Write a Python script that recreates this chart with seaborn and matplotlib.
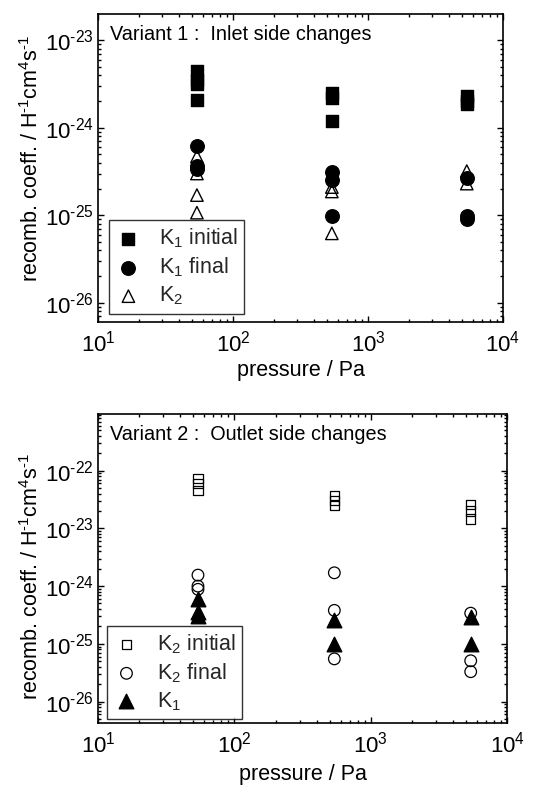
import numpy as np
import pandas as pd
import matplotlib
matplotlib.use("Agg")
import matplotlib.pyplot as plt
from matplotlib.ticker import LogLocator, FuncFormatter, NullFormatter
import seaborn as sns

sns.set_theme(style="ticks")
plt.rcParams["font.family"] = ["Liberation Sans", "DejaVu Sans"]
plt.rcParams["mathtext.fontset"] = "custom"
plt.rcParams["mathtext.rm"] = "Liberation Sans"
plt.rcParams["mathtext.it"] = "Liberation Sans"
plt.rcParams["axes.unicode_minus"] = False

# pressure columns (Pa)
p_low, p_mid, p_high = 54, 540, 5400

# Variant 1: inlet side changes
v1_k1_initial_p = [p_low] * 4 + [p_mid] * 3 + [p_high] * 3
v1_k1_initial = [4.5e-24, 3.5e-24, 3.2e-24, 2.1e-24,
                 2.5e-24, 2.2e-24, 1.2e-24,
                 2.3e-24, 2.05e-24, 1.85e-24]
v1_k1_final_p = [p_low] * 3 + [p_mid] * 3 + [p_high] * 3
v1_k1_final = [6.2e-25, 3.7e-25, 3.4e-25,
               3.1e-25, 2.5e-25, 9.7e-26,
               2.7e-25, 9.7e-26, 9.0e-26]
v1_k2_p = [p_low] * 4 + [p_mid] * 3 + [p_high] * 2
v1_k2 = [4.7e-25, 3.0e-25, 1.7e-25, 1.07e-25,
         2.1e-25, 1.87e-25, 6.2e-26,
         3.2e-25, 2.3e-25]

# Variant 2: outlet side changes
v2_k2_initial_p = [p_low] * 3 + [p_mid] * 3 + [p_high] * 3
v2_k2_initial = [7.2e-23, 5.9e-23, 4.5e-23,
                 3.7e-23, 3.0e-23, 2.5e-23,
                 2.6e-23, 2.0e-23, 1.45e-23]
v2_k2_final_p = [p_low] * 3 + [p_mid] * 3 + [p_high] * 3
v2_k2_final = [1.55e-24, 1.0e-24, 8.8e-25,
               1.7e-24, 3.8e-25, 5.5e-26,
               3.4e-25, 5.1e-26, 3.3e-26]
v2_k1_p = [p_low] * 3 + [p_mid] * 2 + [p_high] * 2
v2_k1 = [6.0e-25, 3.5e-25, 3.0e-25,
         2.6e-25, 1.0e-25,
         2.9e-25, 1.0e-25]

ylabel = r"recomb. coeff. / H$^{\text{-1}}$cm$^{4}$s$^{\text{-1}}$"


def pow10(v, pos):
    n = int(round(np.log10(v)))
    return r"$\mathdefault{10^{\text{%d}}}$" % n


def style_axes(ax, ylim, label_y):
    ax.set_xscale("log")
    ax.set_yscale("log")
    ax.set_xlim(10, 1e4)
    ax.set_ylim(*ylim)
    for s in ax.spines.values():
        s.set_visible(True)
        s.set_color("black")
        s.set_linewidth(1.2)
    ax.xaxis.set_major_locator(LogLocator(base=10, numticks=10))
    ax.xaxis.set_minor_locator(LogLocator(base=10, subs=np.arange(2, 10), numticks=20))
    ax.yaxis.set_major_locator(LogLocator(base=10, numticks=12))
    ax.yaxis.set_minor_locator(LogLocator(base=10, subs=np.arange(2, 10), numticks=30))
    ax.xaxis.set_major_formatter(FuncFormatter(pow10))
    ax.yaxis.set_major_formatter(FuncFormatter(pow10))
    ax.xaxis.set_minor_formatter(NullFormatter())
    ax.yaxis.set_minor_formatter(NullFormatter())
    ax.tick_params(which="both", direction="in", top=True, right=True,
                   color="black", labelsize=16, labelcolor="black", width=1)
    ax.tick_params(which="major", length=4.5)
    ax.tick_params(axis="y", which="major", pad=3)
    ax.tick_params(axis="x", which="major", pad=6)
    ax.tick_params(which="minor", length=2.5)
    ax.set_xlabel("pressure / Pa", fontsize=15.5, color="black", labelpad=3)
    ax.set_ylabel(ylabel, fontsize=15.5, color="black")
    ax.yaxis.set_label_coords(-0.135, label_y)
    ax.grid(False)


def draw(ax, x, y, marker, size, filled, label, lw=1.0):
    df = pd.DataFrame({"p": x, "k": y})
    if filled:
        sns.scatterplot(data=df, x="p", y="k", ax=ax, marker=marker, s=size,
                        color="black", edgecolor="black", linewidth=lw,
                        label=label, zorder=3)
    else:
        sns.scatterplot(data=df, x="p", y="k", ax=ax, marker=marker, s=size,
                        facecolor="none", edgecolor="black", linewidth=lw,
                        label=label, zorder=3)


fig = plt.figure(figsize=(5.39, 7.87), dpi=100)
ax1 = fig.add_axes([0.182, 0.591, 0.751, 0.391])
ax2 = fig.add_axes([0.182, 0.0813, 0.759, 0.3927])

# top panel
draw(ax1, v1_k1_initial_p, v1_k1_initial, "s", 85, True, r"K$_1$ initial")
draw(ax1, v1_k1_final_p, v1_k1_final, "o", 95, True, r"K$_1$ final")
draw(ax1, v1_k2_p, v1_k2, "^", 80, False, r"K$_2$")
style_axes(ax1, (10 ** -26.22, 10 ** -22.70), 0.53)
ax1.text(0.03, 0.965, "Variant 1 :  Inlet side changes", transform=ax1.transAxes,
         ha="left", va="top", fontsize=14.3, color="black")
leg1 = ax1.legend(loc="lower left", bbox_to_anchor=(0.027, 0.026), borderaxespad=0,
                  fontsize=15.5, frameon=True, fancybox=False, edgecolor="black",
                  handletextpad=0.8, labelspacing=0.25, borderpad=0.3,
                  handlelength=1.2)
leg1.get_frame().set_linewidth(1.0)

# bottom panel
draw(ax2, v2_k2_initial_p, v2_k2_initial, "s", 45, False, r"K$_2$ initial", lw=0.9)
draw(ax2, v2_k2_final_p, v2_k2_final, "o", 70, False, r"K$_2$ final", lw=0.9)
draw(ax2, v2_k1_p, v2_k1, "^", 110, True, r"K$_1$")
style_axes(ax2, (10 ** -26.37, 10 ** -21.02), 0.476)
ax2.xaxis.labelpad = 5
ax2.text(0.03, 0.965, "Variant 2 :  Outlet side changes", transform=ax2.transAxes,
         ha="left", va="top", fontsize=14.3, color="black")
leg2 = ax2.legend(loc="lower left", bbox_to_anchor=(0.022, 0.013), borderaxespad=0,
                  fontsize=15.5, frameon=True, fancybox=False, edgecolor="black",
                  handletextpad=0.8, labelspacing=0.25, borderpad=0.3,
                  handlelength=1.2)
leg2.get_frame().set_linewidth(1.0)

fig.savefig("out.png", dpi=100, facecolor="white")
